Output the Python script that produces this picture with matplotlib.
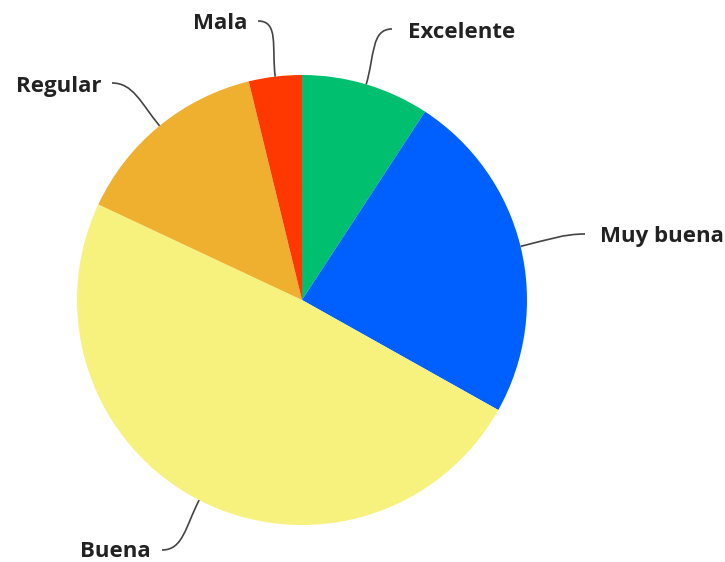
"""Pie chart of ratings (Excelente .. Mala) with curved leader lines."""

import numpy as np
import matplotlib.pyplot as plt
from matplotlib.path import Path
from matplotlib.patches import PathPatch

## data
labels = ['Excelente', 'Muy buena', 'Buena', 'Regular', 'Mala']
values = [9.2, 23.9, 48.8, 14.2, 3.8]
colors = ['#00BF6F', '#005FFF', '#F7F27E', '#EFB02F', '#FF3700']

## leader line end (pixels), text x, text baseline, side of text
label_pos = {
    'Excelente': (392, 29, 408, 38, 'left'),
    'Muy buena': (585, 234, 600, 242, 'left'),
    'Buena': (162, 550, 151, 557, 'right'),
    'Regular': (112, 83, 102, 92, 'right'),
    'Mala': (258, 21, 247, 29, 'right'),
}

fig = plt.figure(figsize=(7.25, 5.62), dpi=100)
ax = fig.add_axes([0, 0, 1, 1])

cx, cy, r = 302, 300, 225
# y is flipped below, so counterclock=True draws clockwise on screen, start at top
wedges, _ = ax.pie(values, colors=colors, startangle=-90, counterclock=True,
                   center=(cx, cy), radius=r, frame=True,
                   wedgeprops=dict(linewidth=0))
ax.set_xlim(0, 725)
ax.set_ylim(562, 0)  # pixel coords, y down
ax.set_aspect('equal')
ax.axis('off')

for w, lab in zip(wedges, labels):
    mid = np.deg2rad((w.theta1 + w.theta2) / 2)
    ex, ey = cx + r * np.cos(mid), cy + r * np.sin(mid)
    lx, ly, tx, ty, side = label_pos[lab]
    d = 30
    # control points: out along the radius, and horizontally off the label
    p1 = (ex + d * np.cos(mid), ey + d * np.sin(mid))
    hx = d if side == 'right' else -d
    p2 = (lx + hx * 0.7, ly)
    path = Path([(ex, ey), p1, p2, (lx, ly)],
                [Path.MOVETO, Path.CURVE4, Path.CURVE4, Path.CURVE4])
    ax.add_patch(PathPatch(path, fill=False, color='#444444', lw=1.2))
    ax.text(tx, ty, lab, ha=side, va='baseline', fontsize=16,
            fontweight='bold', family='Open Sans', color='#222222')

fig.savefig('out.png', dpi=100)
